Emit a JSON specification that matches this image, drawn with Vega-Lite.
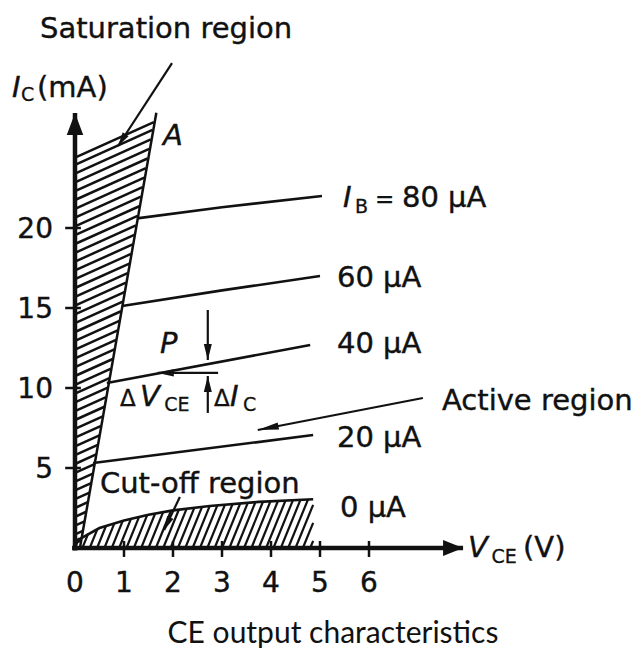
{
  "$schema": "https://vega.github.io/schema/vega-lite/v6.json",
  "width": 636,
  "height": 650,
  "autosize": {"type": "fit", "contains": "padding"},
  "padding": 0,
  "background": "white",
  "config": {"view": {"stroke": null}},
  "datasets": {
    "satHatch": [
      {"x":0,"y":0.3,"x2":0.127,"y2":0.475},{"x":0,"y":0.85,"x2":0.161,"y2":1.072},{"x":0,"y":1.4,"x2":0.195,"y2":1.668},
      {"x":0,"y":1.95,"x2":0.228,"y2":2.265},{"x":0,"y":2.5,"x2":0.262,"y2":2.862},{"x":0,"y":3.05,"x2":0.296,"y2":3.459},
      {"x":0,"y":3.6,"x2":0.33,"y2":4.055},{"x":0,"y":4.15,"x2":0.364,"y2":4.652},{"x":0,"y":4.7,"x2":0.398,"y2":5.249},
      {"x":0,"y":5.25,"x2":0.431,"y2":5.845},{"x":0,"y":5.8,"x2":0.465,"y2":6.442},{"x":0,"y":6.35,"x2":0.499,"y2":7.039},
      {"x":0,"y":6.9,"x2":0.533,"y2":7.635},{"x":0,"y":7.45,"x2":0.567,"y2":8.232},{"x":0,"y":8.0,"x2":0.601,"y2":8.829},
      {"x":0,"y":8.55,"x2":0.634,"y2":9.426},{"x":0,"y":9.1,"x2":0.668,"y2":10.022},{"x":0,"y":9.65,"x2":0.702,"y2":10.619},
      {"x":0,"y":10.2,"x2":0.736,"y2":11.216},{"x":0,"y":10.75,"x2":0.77,"y2":11.812},{"x":0,"y":11.3,"x2":0.804,"y2":12.409},
      {"x":0,"y":11.85,"x2":0.837,"y2":13.006},{"x":0,"y":12.4,"x2":0.871,"y2":13.602},{"x":0,"y":12.95,"x2":0.905,"y2":14.199},
      {"x":0,"y":13.5,"x2":0.939,"y2":14.796},{"x":0,"y":14.05,"x2":0.973,"y2":15.393},{"x":0,"y":14.6,"x2":1.007,"y2":15.989},
      {"x":0,"y":15.15,"x2":1.04,"y2":16.586},{"x":0,"y":15.7,"x2":1.074,"y2":17.183},{"x":0,"y":16.25,"x2":1.108,"y2":17.779},
      {"x":0,"y":16.8,"x2":1.142,"y2":18.376},{"x":0,"y":17.35,"x2":1.176,"y2":18.973},{"x":0,"y":17.9,"x2":1.21,"y2":19.569},
      {"x":0,"y":18.45,"x2":1.243,"y2":20.166},{"x":0,"y":19.0,"x2":1.277,"y2":20.763},{"x":0,"y":19.55,"x2":1.311,"y2":21.36},
      {"x":0,"y":20.1,"x2":1.345,"y2":21.956},{"x":0,"y":20.65,"x2":1.379,"y2":22.553},{"x":0,"y":21.2,"x2":1.413,"y2":23.15},
      {"x":0,"y":21.75,"x2":1.446,"y2":23.746},{"x":0,"y":22.3,"x2":1.48,"y2":24.343},{"x":0,"y":22.85,"x2":1.514,"y2":24.94},
      {"x":0,"y":23.4,"x2":1.548,"y2":25.536},{"x":0,"y":23.95,"x2":1.582,"y2":26.133},{"x":0,"y":24.4,"x2":1.609,"y2":26.62}
    ],
    "cutHatch": [
      {"x":0,"y":0,"x2":0.083,"y2":0.625},{"x":0.15,"y":0,"x2":0.27,"y2":0.9},{"x":0.3,"y":0,"x2":0.457,"y2":1.185},
      {"x":0.45,"y":0,"x2":0.632,"y2":1.374},{"x":0.6,"y":0,"x2":0.803,"y2":1.535},{"x":0.75,"y":0,"x2":0.974,"y2":1.696},
      {"x":0.9,"y":0,"x2":1.142,"y2":1.822},{"x":1.05,"y":0,"x2":1.308,"y2":1.94},{"x":1.2,"y":0,"x2":1.473,"y2":2.06},
      {"x":1.35,"y":0,"x2":1.636,"y2":2.154},{"x":1.5,"y":0,"x2":1.798,"y2":2.24},{"x":1.65,"y":0,"x2":1.96,"y2":2.33},
      {"x":1.8,"y":0,"x2":2.119,"y2":2.39},{"x":1.95,"y":0,"x2":2.277,"y2":2.45},{"x":2.1,"y":0,"x2":2.435,"y2":2.51},
      {"x":2.25,"y":0,"x2":2.593,"y2":2.57},{"x":2.4,"y":0,"x2":2.75,"y2":2.63},{"x":2.55,"y":0,"x2":2.906,"y2":2.67},
      {"x":2.7,"y":0,"x2":3.061,"y2":2.71},{"x":2.85,"y":0,"x2":3.216,"y2":2.75},{"x":3.0,"y":0,"x2":3.371,"y2":2.78},
      {"x":3.15,"y":0,"x2":3.526,"y2":2.82},{"x":3.3,"y":0,"x2":3.681,"y2":2.86},{"x":3.45,"y":0,"x2":3.836,"y2":2.89},
      {"x":3.6,"y":0,"x2":3.989,"y2":2.92},{"x":3.75,"y":0,"x2":4.142,"y2":2.94},{"x":3.9,"y":0,"x2":4.295,"y2":2.96},
      {"x":4.05,"y":0,"x2":4.448,"y2":2.99},{"x":4.2,"y":0,"x2":4.601,"y2":3.01},{"x":4.35,"y":0,"x2":4.755,"y2":3.03},
      {"x":4.5,"y":0,"x2":4.86,"y2":2.7},{"x":4.65,"y":0,"x2":4.86,"y2":1.575},{"x":4.8,"y":0,"x2":4.86,"y2":0.45}
    ],
    "thin": [
      {"x":0.1,"y":0,"x2":1.66,"y2":27.2},
      {"x":-0.2,"y":5,"x2":0.12,"y2":5},{"x":-0.2,"y":10,"x2":0.12,"y2":10},
      {"x":-0.2,"y":15,"x2":0.12,"y2":15},{"x":-0.2,"y":20,"x2":0.12,"y2":20},
      {"x":1,"y":-0.56,"x2":1,"y2":0.44},{"x":2,"y":-0.56,"x2":2,"y2":0.44},{"x":3,"y":-0.56,"x2":3,"y2":0.44},
      {"x":4,"y":-0.56,"x2":4,"y2":0.44},{"x":5,"y":-0.56,"x2":5,"y2":0.44},{"x":6,"y":-0.56,"x2":6,"y2":0.44}
    ],
    "curves": [
      {"IB":"80","x":1.265,"y":20.6},{"IB":"80","x":3.0,"y":21.3},{"IB":"80","x":5.04,"y":22.0},
      {"IB":"60","x":0.96,"y":15.125},{"IB":"60","x":3.0,"y":16.1},{"IB":"60","x":5.0,"y":17.0},
      {"IB":"40","x":0.65,"y":10.31},{"IB":"40","x":4.8,"y":12.69},
      {"IB":"20","x":0.37,"y":5.31},{"IB":"20","x":4.86,"y":7.06},
      {"IB":"0","x":0,"y":0.4},{"IB":"0","x":0.5,"y":1.25},{"IB":"0","x":1.0,"y":1.72},{"IB":"0","x":1.5,"y":2.08},
      {"IB":"0","x":2.0,"y":2.35},{"IB":"0","x":2.75,"y":2.63},{"IB":"0","x":3.75,"y":2.88},{"IB":"0","x":4.86,"y":3.05}
    ],
    "axes": [
      {"name":"y","x":0,"y":27.19,"x2":0,"y2":-0.15},
      {"name":"x","x":7.92,"y":0,"x2":-0.06,"y2":0}
    ],
    "arrows": [
      {"name":"sat","x":0.878,"y":25.125,"x2":1.98,"y2":30.31},
      {"name":"cut","x":1.82,"y":1.125,"x2":2.14,"y2":3.19},
      {"name":"active","x":3.73,"y":7.375,"x2":7.1,"y2":9.375},
      {"name":"P","x":2.71,"y":11.75,"x2":2.71,"y2":14.875},
      {"name":"dIc","x":2.71,"y":10.75,"x2":2.71,"y2":8.44},
      {"name":"dVce","x":1.69,"y":10.94,"x2":2.92,"y2":10.94}
    ],
    "texts": [
      {"t":"Saturation region","x":-0.714,"y":31.875},
      {"t":"(mA)","x":-0.776,"y":28.19},
      {"t":"80 µA","x":6.673,"y":21.31},
      {"t":"60 µA","x":5.347,"y":16.31},
      {"t":"40 µA","x":5.347,"y":12.19},
      {"t":"Active region","x":7.49,"y":8.625},
      {"t":"20 µA","x":5.347,"y":6.31},
      {"t":"0 µA","x":5.408,"y":1.94},
      {"t":"Cut-off region","x":0.51,"y":3.44},
      {"t":"(V)","x":9.143,"y":-0.5625}
    ],
    "italics": [
      {"t":"I","x":-1.286,"y":28.19},
      {"t":"A","x":1.796,"y":25.19},
      {"t":"I","x":5.469,"y":21.31},
      {"t":"V","x":8.02,"y":-0.5625},
      {"t":"P","x":1.735,"y":12.19},
      {"t":"V","x":1.327,"y":8.875},
      {"t":"I","x":3.163,"y":8.875}
    ],
    "subs": [
      {"t":"C","x":-1.102,"y":27.94},
      {"t":"B","x":5.714,"y":20.94},
      {"t":"CE","x":8.5,"y":-0.9375},
      {"t":"CE","x":1.82,"y":8.5625},
      {"t":"C","x":3.43,"y":8.5625}
    ],
    "small": [
      {"t":"=","x":6.122,"y":21.31},
      {"t":"Δ","x":0.918,"y":8.875},
      {"t":"Δ","x":2.837,"y":8.875}
    ],
    "xlabels": [
      {"t":"0","x":0,"y":-2.75},{"t":"1","x":1,"y":-2.75},{"t":"2","x":2,"y":-2.75},{"t":"3","x":3,"y":-2.75},
      {"t":"4","x":4,"y":-2.75},{"t":"5","x":5,"y":-2.75},{"t":"6","x":6,"y":-2.75}
    ],
    "ylabels": [
      {"t":"5","x":-0.449,"y":4.375},{"t":"10","x":-0.449,"y":9.375},
      {"t":"15","x":-0.449,"y":14.375},{"t":"20","x":-0.449,"y":19.375}
    ],
    "caption": [
      {"t":"CE output characteristics","x":5.265,"y":-5.94}
    ]
  },
  "encoding": {
    "x": {"field": "x", "type": "quantitative", "axis": null, "scale": {"domain": [-1.5306, 11.449], "nice": false, "zero": false}},
    "y": {"field": "y", "type": "quantitative", "axis": null, "scale": {"domain": [-6.375, 34.25], "nice": false, "zero": false}}
  },
  "layer": [
    {"data": {"name": "satHatch"}, "mark": {"type": "rule", "color": "#111", "strokeWidth": 2.5},
     "encoding": {"x2": {"field": "x2"}, "y2": {"field": "y2"}}},
    {"data": {"name": "cutHatch"}, "mark": {"type": "rule", "color": "#111", "strokeWidth": 2.2},
     "encoding": {"x2": {"field": "x2"}, "y2": {"field": "y2"}}},
    {"data": {"name": "thin"}, "mark": {"type": "rule", "color": "#111", "strokeWidth": 2.5},
     "encoding": {"x2": {"field": "x2"}, "y2": {"field": "y2"}}},
    {"data": {"name": "curves"}, "mark": {"type": "line", "color": "#111", "strokeWidth": 2.6},
     "encoding": {"detail": {"field": "IB"}}},
    {"data": {"name": "axes"}, "mark": {"type": "rule", "color": "#111", "strokeWidth": 4.5},
     "encoding": {"x2": {"field": "x2"}, "y2": {"field": "y2"}}},
    {"data": {"name": "axes"}, "transform": [{"filter": "datum.name === 'y'"}],
     "mark": {"type": "point", "shape": "M0,0L0.75,2L-0.75,2Z", "filled": true, "color": "#111", "opacity": 1, "size": 484, "angle": 0}},
    {"data": {"name": "axes"}, "transform": [{"filter": "datum.name === 'x'"}],
     "mark": {"type": "point", "shape": "M0,0L0.8,2L-0.8,2Z", "filled": true, "color": "#111", "opacity": 1, "size": 400, "angle": 90}},
    {"data": {"name": "arrows"}, "mark": {"type": "rule", "color": "#111", "strokeWidth": 2.2},
     "encoding": {"x2": {"field": "x2"}, "y2": {"field": "y2"}}},
    {"data": {"name": "arrows"}, "transform": [{"filter": "datum.name === 'sat'"}],
     "mark": {"type": "point", "shape": "M0,0L0.5,2L-0.5,2Z", "filled": true, "color": "#111", "opacity": 1, "size": 196, "angle": 213}},
    {"data": {"name": "arrows"}, "transform": [{"filter": "datum.name === 'cut'"}],
     "mark": {"type": "point", "shape": "M0,0L0.5,2L-0.5,2Z", "filled": true, "color": "#111", "opacity": 1, "size": 196, "angle": 206}},
    {"data": {"name": "arrows"}, "transform": [{"filter": "datum.name === 'active'"}],
     "mark": {"type": "point", "shape": "M0,0L0.35,2L-0.35,2Z", "filled": true, "color": "#111", "opacity": 1, "size": 441, "angle": 259}},
    {"data": {"name": "arrows"}, "transform": [{"filter": "datum.name === 'P'"}],
     "mark": {"type": "point", "shape": "M0,0L0.5,2L-0.5,2Z", "filled": true, "color": "#111", "opacity": 1, "size": 256, "angle": 180}},
    {"data": {"name": "arrows"}, "transform": [{"filter": "datum.name === 'dIc'"}],
     "mark": {"type": "point", "shape": "M0,0L0.5,2L-0.5,2Z", "filled": true, "color": "#111", "opacity": 1, "size": 256, "angle": 0}},
    {"data": {"name": "arrows"}, "transform": [{"filter": "datum.name === 'dVce'"}],
     "mark": {"type": "point", "shape": "M0,0L0.45,2L-0.45,2Z", "filled": true, "color": "#111", "opacity": 1, "size": 256, "angle": 270}},
    {"data": {"name": "texts"}, "mark": {"type": "text", "align": "left", "baseline": "alphabetic", "font": "DejaVu Sans", "fontSize": 29, "color": "#111", "stroke": "#111", "strokeWidth": 0.4},
     "encoding": {"text": {"field": "t"}}},
    {"data": {"name": "italics"}, "mark": {"type": "text", "align": "left", "baseline": "alphabetic", "font": "DejaVu Sans", "fontStyle": "italic", "fontSize": 29, "color": "#111", "stroke": "#111", "strokeWidth": 0.4},
     "encoding": {"text": {"field": "t"}}},
    {"data": {"name": "subs"}, "mark": {"type": "text", "align": "left", "baseline": "alphabetic", "font": "DejaVu Sans", "fontSize": 19, "color": "#111", "stroke": "#111", "strokeWidth": 0.3},
     "encoding": {"text": {"field": "t"}}},
    {"data": {"name": "small"}, "mark": {"type": "text", "align": "left", "baseline": "alphabetic", "font": "DejaVu Sans", "fontSize": 23, "color": "#111", "stroke": "#111", "strokeWidth": 0.3},
     "encoding": {"text": {"field": "t"}}},
    {"data": {"name": "xlabels"}, "mark": {"type": "text", "align": "center", "baseline": "alphabetic", "font": "DejaVu Sans", "fontSize": 28, "color": "#111", "stroke": "#111", "strokeWidth": 0.4},
     "encoding": {"text": {"field": "t"}}},
    {"data": {"name": "ylabels"}, "mark": {"type": "text", "align": "right", "baseline": "alphabetic", "font": "DejaVu Sans", "fontSize": 28, "color": "#111", "stroke": "#111", "strokeWidth": 0.4},
     "encoding": {"text": {"field": "t"}}},
    {"data": {"name": "caption"}, "mark": {"type": "text", "align": "center", "baseline": "alphabetic", "font": "Lato", "fontSize": 30, "color": "#111"},
     "encoding": {"text": {"field": "t"}}}
  ]
}
